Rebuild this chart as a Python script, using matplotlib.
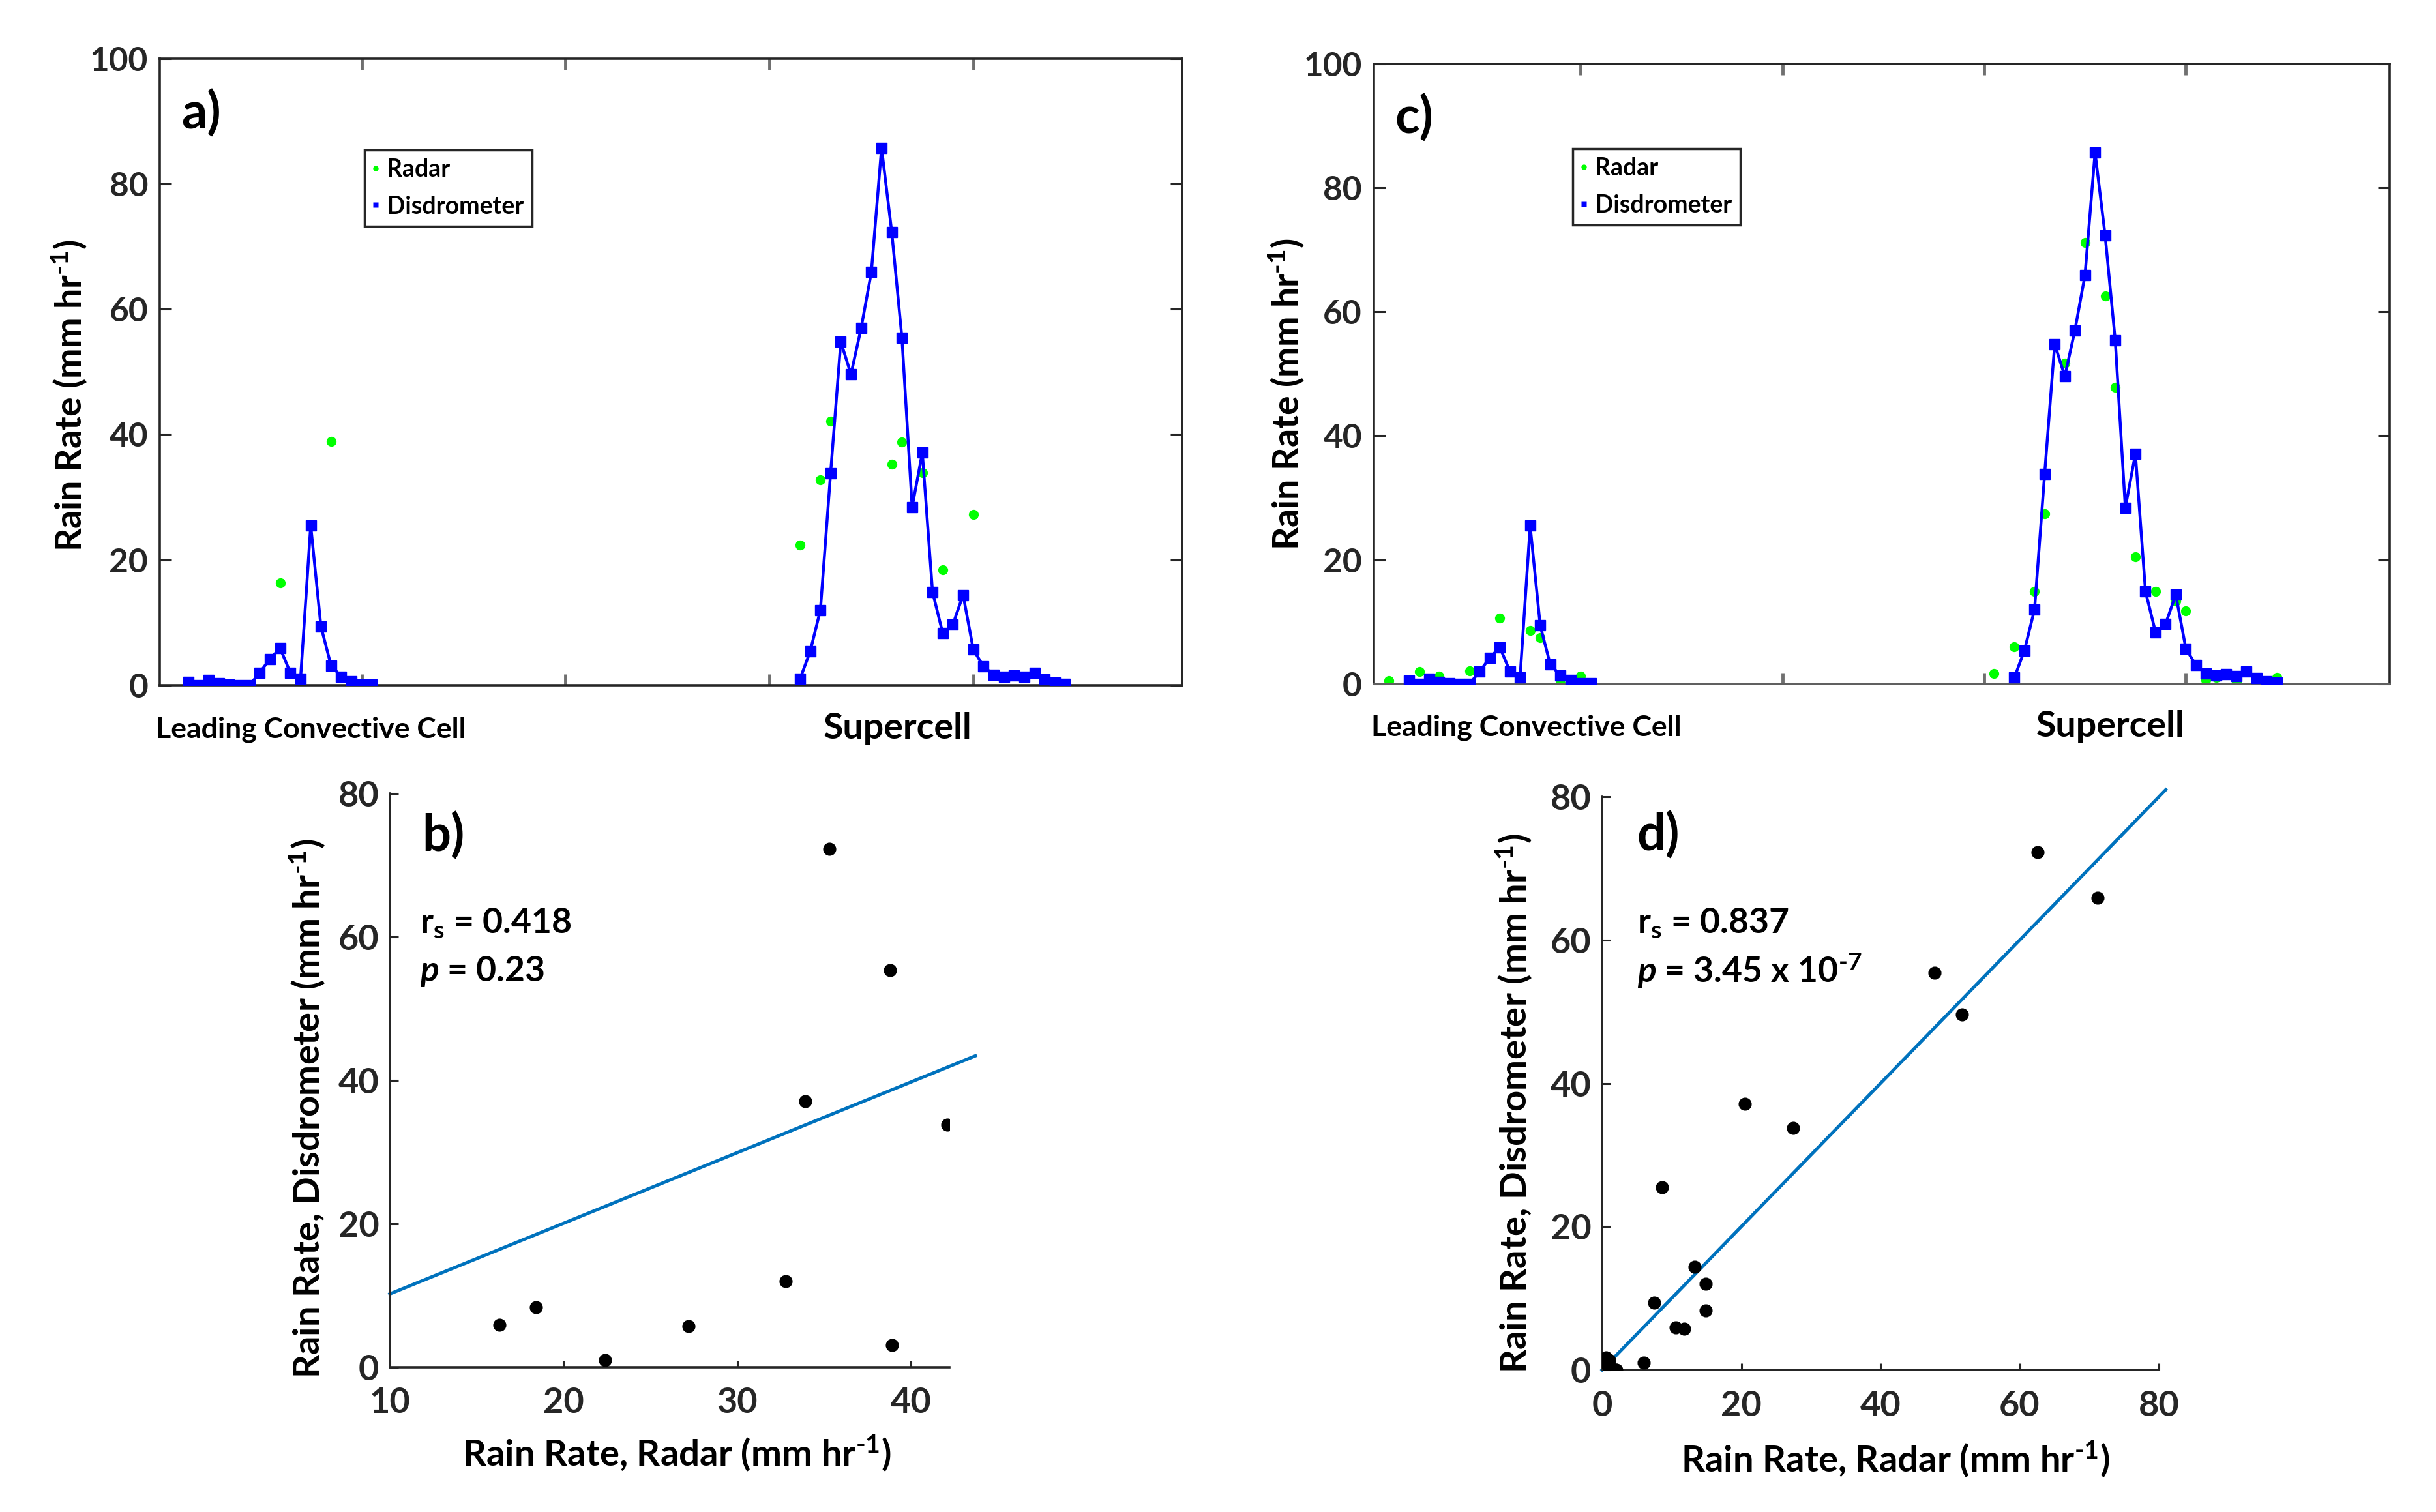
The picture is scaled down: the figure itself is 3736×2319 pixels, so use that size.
import numpy as np
import matplotlib
matplotlib.use("Agg")
import matplotlib.pyplot as plt
from matplotlib.lines import Line2D

# ---------------- data ----------------
# sample index (time step) and disdrometer rain rate (mm/hr)
lead_t = list(range(3, 22))
lead_disd = [0.5, 0.0, 0.8, 0.3, 0.1, 0.0, 0.0, 2.0, 4.2, 5.9, 2.0, 1.0,
             25.5, 9.4, 3.1, 1.4, 0.6, 0.1, 0.1]
super_t = list(range(63, 90))
super_disd = [1.0, 5.4, 12.0, 33.8, 54.8, 49.6, 57.0, 65.9, 85.7, 72.3, 55.4,
              28.4, 37.1, 14.9, 8.3, 9.7, 14.4, 5.7, 3.0, 1.7, 1.4, 1.6, 1.3,
              2.0, 0.9, 0.4, 0.2]

# radar rain rate used in panels a/b
radar_a_t = [12, 17, 63, 65, 66, 72, 73, 75, 77, 80]
radar_a = [16.3, 38.9, 22.4, 32.8, 42.1, 35.3, 38.8, 33.9, 18.4, 27.2]

# radar rain rate used in panels c/d
radar_c_t = [1, 4, 6, 9, 12, 15, 16, 18, 20, 61, 63, 65, 66, 68, 70, 72, 73,
             75, 77, 79, 80, 82, 83, 85, 87, 89]
radar_c = [0.5, 2.0, 1.3, 2.1, 10.6, 8.6, 7.5, 0.1, 1.3, 1.7, 6.0, 14.9, 27.4,
           51.7, 71.2, 62.6, 47.8, 20.5, 14.9, 13.3, 11.8, 0.6, 1.0, 0.3, 0.45,
           1.0]

# fitted lines (slope, intercept, x-range)
fit_b_slope, fit_b_intercept, fit_b_x = 0.986, 0.34, [10.0, 43.7]
fit_d_slope, fit_d_intercept, fit_d_x = 1.0, 0.0, [0.0, 81.0]

stats_b = ["r$_{s}$ = 0.418", "$\\mathit{p}$ = 0.23"]
stats_d = ["r$_{s}$ = 0.837", "$\\mathit{p}$ = 3.45 x 10$^{\\text{-}7}$"]

unit = "(mm hr$^{\\text{-}1}$)"
cell_labels = ["Leading Convective Cell", "Supercell"]
cell_label_x_a = [15.0, 72.6]
cell_label_x_c = [14.6, 72.5]

ts_yticks = [0, 20, 40, 60, 80, 100]
sc_yticks = [0, 20, 40, 60, 80]
b_xticks = [10, 20, 30, 40]
d_xticks = [0, 20, 40, 60, 80]

# ---------------- style ----------------
plt.rcParams["font.family"] = ["Lato", "DejaVu Sans"]
plt.rcParams["font.weight"] = "bold"
plt.rcParams["axes.labelweight"] = "bold"
plt.rcParams["mathtext.fontset"] = "custom"
plt.rcParams["mathtext.default"] = "regular"
plt.rcParams["mathtext.rm"] = "Lato:bold"
plt.rcParams["mathtext.it"] = "Lato:italic:bold"
plt.rcParams["mathtext.bf"] = "Lato:bold"

AXC = "#262626"
GREEN = "#00FF00"
BLUE = "#0000FF"
FITC = "#0072BD"

fig = plt.figure(figsize=(37.37, 23.19), dpi=100)

ax_a = fig.add_axes([0.0656, 0.5468, 0.4196, 0.4146])
ax_c = fig.add_axes([0.5638, 0.5477, 0.4169, 0.4101])
ax_b = fig.add_axes([0.1600, 0.0959, 0.2296, 0.3791])
ax_d = fig.add_axes([0.6575, 0.0940, 0.2285, 0.3790])


def paired(rt, rv):
    disd = dict(zip(lead_t + super_t, lead_disd + super_disd))
    xs, ys = [], []
    for t, v in zip(rt, rv):
        if t in disd:
            xs.append(v)
            ys.append(disd[t])
    return xs, ys


def bold_ticks(ax):
    for lbl in ax.get_xticklabels() + ax.get_yticklabels():
        lbl.set_fontweight("bold")


def timeseries(ax, rt, rv, letter, xlim, ylab_xy, legend_xy, label_x):
    ax.plot(rt, rv, "o", color=GREEN, ms=11, mec="none", zorder=2)
    ax.plot(lead_t, lead_disd, "-s", color=BLUE, lw=3.2, ms=11.5, zorder=3)
    ax.plot(super_t, super_disd, "-s", color=BLUE, lw=3.2, ms=11.5, zorder=3)
    ax.set_xlim(*xlim)
    ax.set_ylim(0, 100)
    ax.set_yticks(ts_yticks)
    ax.set_xticks([20, 40, 60, 80])
    ax.tick_params(axis="y", direction="in", length=13, width=2.2,
                   left=True, right=True, labelsize=37, pad=13, colors=AXC)
    ax.tick_params(axis="x", direction="in", length=12, width=3.5,
                   top=True, bottom=True, labelbottom=False, color="#707070")
    bold_ticks(ax)
    for s in ax.spines.values():
        s.set_linewidth(2.6)
        s.set_color(AXC)
    ax.set_ylabel("Rain Rate " + unit, fontsize=40, fontweight="bold")
    ax.yaxis.label.set(ha="center", va="center")
    ax.yaxis.set_label_coords(*ylab_xy)
    ax.text(0.021, 0.888, letter, transform=ax.transAxes, fontsize=56,
            fontweight="bold", va="baseline", ha="left")
    tr = ax.get_xaxis_transform()
    ax.text(label_x[0], -0.084, cell_labels[0], transform=tr,
            fontsize=32, ha="center", va="baseline", fontweight="bold")
    ax.text(label_x[1], -0.085, cell_labels[1], transform=tr,
            fontsize=40, ha="center", va="baseline", fontweight="bold")
    handles = [Line2D([], [], ls="none", marker="o", color=GREEN, ms=6, mec="none"),
               Line2D([], [], ls="none", marker="s", color=BLUE, ms=6, mec="none")]
    leg = ax.legend(handles, ["Radar", "Disdrometer"], loc="upper left",
                    bbox_to_anchor=legend_xy, borderaxespad=0, frameon=True,
                    fancybox=False, edgecolor=AXC, framealpha=1,
                    prop={"size": 27, "weight": "bold"},
                    handlelength=0.2, handletextpad=0.35, borderpad=0.35,
                    labelspacing=0.6)
    leg.get_frame().set_linewidth(2.5)


def scatter(ax, rt, rv, letter, xlim, xticks, fit, stats, ylab_xy, xlab_xy,
            letter_xy, stats_xy):
    xs, ys = paired(rt, rv)
    slope, intercept, xr = fit
    xr = np.array(xr)
    ax.plot(xr, slope * xr + intercept, color=FITC, lw=3.6, clip_on=False,
            zorder=2)
    ax.plot(xs, ys, "o", color="black", ms=13.5, zorder=3)
    ax.set_xlim(*xlim)
    ax.set_ylim(0, 80)
    ax.set_xticks(xticks)
    ax.set_yticks(sc_yticks)
    ax.spines["top"].set_visible(False)
    ax.spines["right"].set_visible(False)
    for s in ("left", "bottom"):
        ax.spines[s].set_linewidth(2.6)
        ax.spines[s].set_color(AXC)
    ax.tick_params(axis="y", direction="in", length=9, width=2.2,
                   labelsize=39, pad=12, colors=AXC)
    ax.tick_params(axis="x", direction="in", length=7, width=2.2,
                   labelsize=39, pad=22, colors=AXC)
    bold_ticks(ax)
    ax.set_ylabel("Rain Rate, Disdrometer " + unit, fontsize=40.5,
                  fontweight="bold")
    ax.yaxis.label.set(ha="center", va="center")
    ax.yaxis.set_label_coords(*ylab_xy)
    ax.set_xlabel("Rain Rate, Radar " + unit, fontsize=40.5, fontweight="bold")
    ax.xaxis.label.set(ha="center", va="center")
    ax.xaxis.set_label_coords(*xlab_xy)
    ax.text(letter_xy[0], letter_xy[1], letter, transform=ax.transAxes,
            fontsize=56, va="baseline", ha="left", fontweight="bold")
    ax.text(stats_xy[0], stats_xy[1], stats[0], transform=ax.transAxes,
            fontsize=38.5, va="baseline", ha="left", fontweight="bold")
    ax.text(stats_xy[0], stats_xy[2], stats[1], transform=ax.transAxes,
            fontsize=38.5, va="baseline", ha="left", fontweight="bold")


timeseries(ax_a, radar_a_t, radar_a, "a)", (0.2, 100.5), (-0.0888, 0.462),
           (0.200, 0.854), cell_label_x_a)
timeseries(ax_c, radar_c_t, radar_c, "c)", (-0.5, 100.2), (-0.086, 0.467),
           (0.196, 0.863), cell_label_x_c)
ax_c.spines["bottom"].set_color("#606060")

scatter(ax_b, radar_a_t, radar_a, "b)", (10, 42.2), b_xticks,
        (fit_b_slope, fit_b_intercept, fit_b_x), stats_b,
        (-0.149, 0.451), (0.513, -0.150), (0.057, 0.90), (0.054, 0.757, 0.673))
scatter(ax_d, radar_c_t, radar_c, "d)", (0, 80), d_xticks,
        (fit_d_slope, fit_d_intercept, fit_d_x), stats_d,
        (-0.1587, 0.465), (0.527, -0.155), (0.063, 0.906), (0.063, 0.762, 0.676))

fig.savefig("out.png", dpi=100, facecolor="white")
